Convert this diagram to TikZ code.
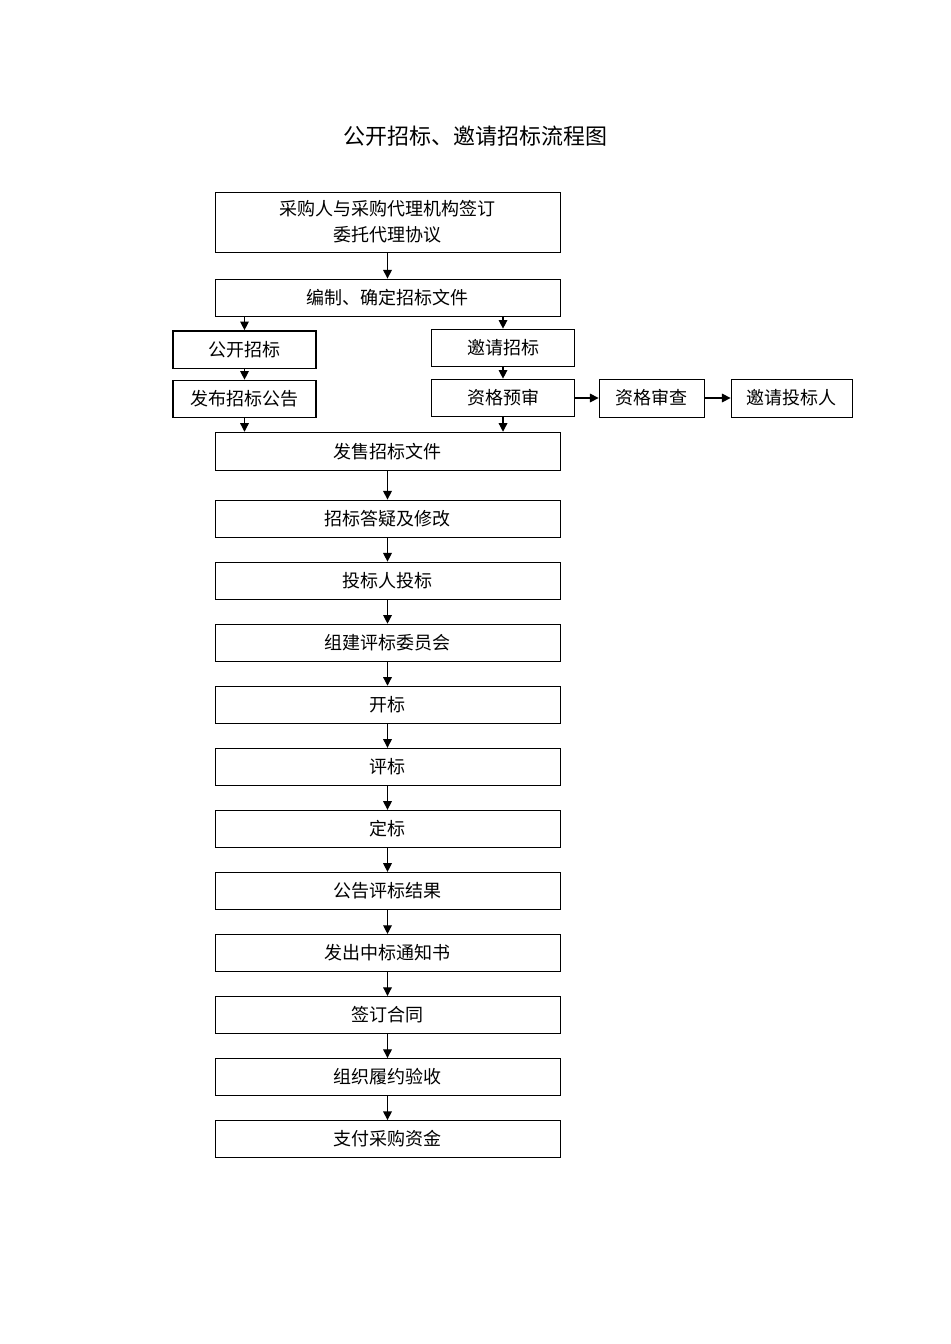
\documentclass[tikz,border=0pt]{standalone}
\usepackage{fontspec}
\setmainfont{Noto Sans CJK SC}
\usetikzlibrary{arrows.meta}
\tikzset{
  box/.style={draw, line width=0.6pt, minimum width=258.75pt, minimum height=27.75pt, inner sep=0pt, font=\fontsize{13.5pt}{19.5pt}\selectfont, align=center},
  sidebox/.style={box, line width=1pt, minimum width=107.25pt, minimum height=28pt},
  arr/.style={-{Triangle[width=6.5pt,length=6.5pt]}, line width=0.9pt}
}
\begin{document}
\begin{tikzpicture}[x=0.75pt,y=-0.75pt]
\useasboundingbox (0,0) rectangle (950,1344);

%Title
\node[font=\fontsize{16.5pt}{19pt}\selectfont] (title) at (475,136) {公开招标、邀请招标流程图};

%Top boxes
\node[box, minimum height=45pt] (entrust) at (387.5,222) {采购人与采购代理机构签订\\委托代理协议};
\node[box] (prepare) at (387.5,297.5) {编制、确定招标文件};

%Open tender branch
\node[sidebox] (open) at (244.5,349.5) {公开招标};
\node[sidebox] (notice) at (244.5,399) {发布招标公告};

%Invited tender branch
\node[sidebox] (invite) at (503,348) {邀请招标};
\node[sidebox] (prequal) at (503,398) {资格预审};
\node[box, minimum width=78.75pt, minimum height=28.5pt] (review) at (651.5,398) {资格审查};
\node[box, minimum width=90.75pt, minimum height=28.5pt] (bidder) at (791.5,398) {邀请投标人};

%Main column
\node[box, minimum height=29pt] (sell) at (387.5,451.5) {发售招标文件};
\foreach \name/\txt [count=\i from 0] in {qa/招标答疑及修改, bid/投标人投标, panel/组建评标委员会, opening/开标, evaluate/评标, decide/定标, result/公告评标结果, award/发出中标通知书, contract/签订合同, accept/组织履约验收, pay/支付采购资金}
  \node[box] (\name) at (387.5,518.5+62.05*\i) {\txt};

%Connectors
\draw[arr] (entrust) -- (prepare);
\draw[arr] (prepare.south -| open) -- (open);
\draw[arr] (prepare.south -| invite) -- (invite);
\draw[arr] (open) -- (notice);
\draw[arr] (invite) -- (prequal);
\draw[arr] (prequal) -- (review);
\draw[arr] (review) -- (bidder);
\draw[arr] (notice) -- (sell.north -| notice);
\draw[arr] (prequal) -- (sell.north -| prequal);
\draw[arr] (sell) -- (qa);
\foreach \a/\b in {qa/bid, bid/panel, panel/opening, opening/evaluate, evaluate/decide, decide/result, result/award, award/contract, contract/accept, accept/pay}
  \draw[arr] (\a) -- (\b);

\end{tikzpicture}
\end{document}
